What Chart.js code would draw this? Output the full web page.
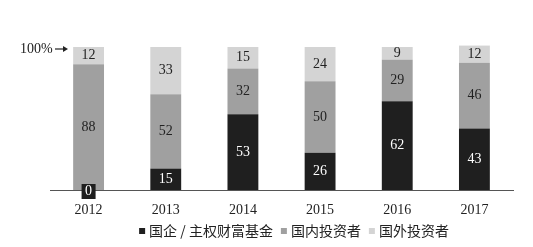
<!DOCTYPE html>
<html>
<head>
<meta charset="utf-8">
<script src="https://cdn.jsdelivr.net/npm/chart.js@4"></script>
<style>
  html, body { margin: 0; padding: 0; background: #fff; }
  #wrap { width: 533px; height: 247px; }
</style>
</head>
<body>
<div id="wrap"><canvas id="barChart"></canvas></div>
<script>
const years = ["2012", "2013", "2014", "2015", "2016", "2017"];
const soeFund = [0, 15, 53, 26, 62, 43];
const domestic = [88, 52, 32, 50, 29, 46];
const foreign = [12, 33, 15, 24, 9, 12];
const seriesNames = ["国企 / 主权财富基金", "国内投资者", "国外投资者"];

const serif = "'Liberation Serif', 'DejaVu Serif', serif";

// value labels inside each segment, the 100% marker and the legend row
const barLabels = {
  id: "barLabels",
  afterDatasetsDraw(chart) {
    const ctx = chart.ctx;
    ctx.save();
    ctx.font = "14px " + serif;
    ctx.textAlign = "center";
    ctx.textBaseline = "middle";
    chart.data.datasets.forEach((ds, i) => {
      const meta = chart.getDatasetMeta(i);
      meta.data.forEach((bar, j) => {
        const v = ds.data[j];
        let y = (bar.y + bar.base) / 2;
        if (v === 0) {
          y = bar.base + 1;
          ctx.fillStyle = "#1e1e1e";
          ctx.fillRect(bar.x - 7, y - 7, 14, 15);
          ctx.fillStyle = "#fff";
        } else {
          ctx.fillStyle = i === 0 ? "#fff" : "#222";
        }
        ctx.fillText(v, bar.x, y);
      });
    });

    // 100% marker
    const yTop = chart.scales.y.getPixelForValue(100) + 2;
    ctx.fillStyle = "#222";
    ctx.textAlign = "left";
    ctx.fillText("100%", 20, yTop);
    ctx.strokeStyle = "#222";
    ctx.lineWidth = 1.2;
    ctx.beginPath();
    ctx.moveTo(55, yTop);
    ctx.lineTo(66, yTop);
    ctx.stroke();
    ctx.beginPath();
    ctx.moveTo(68, yTop);
    ctx.lineTo(63, yTop - 3);
    ctx.lineTo(63, yTop + 3);
    ctx.closePath();
    ctx.fill();

    // legend
    ctx.font = "14px 'Noto Sans CJK SC'";
    const box = 6, gapIn = 4, gapOut = 8;
    const items = chart.data.datasets.map(ds => ({
      label: ds.label, color: ds.backgroundColor,
      w: box + gapIn + ctx.measureText(ds.label).width
    }));
    const total = items.reduce((s, it) => s + it.w, 0) + gapOut * (items.length - 1);
    let x = 294 - total / 2;
    const ly = 231;
    items.forEach(it => {
      ctx.fillStyle = it.color;
      ctx.fillRect(x, ly - box / 2, box, box);
      ctx.fillStyle = "#222";
      ctx.fillText(it.label, x + box + gapIn, ly);
      x += it.w + gapOut;
    });
    ctx.restore();
  }
};

new Chart(document.getElementById("barChart"), {
  type: "bar",
  data: {
    labels: years,
    datasets: [
      { label: seriesNames[0], data: soeFund, backgroundColor: "#1f1f1f" },
      { label: seriesNames[1], data: domestic, backgroundColor: "#a0a0a0" },
      { label: seriesNames[2], data: foreign, backgroundColor: "#d4d4d4" }
    ]
  },
  options: {
    responsive: true,
    maintainAspectRatio: false,
    animation: false,
    layout: { padding: { left: 50, right: 20, top: 47, bottom: 17 } },
    datasets: { bar: { barPercentage: 0.4, categoryPercentage: 1, clip: false } },
    plugins: {
      tooltip: { enabled: false },
      legend: { display: false }
    },
    scales: {
      x: {
        stacked: true,
        grid: { display: false, drawTicks: false },
        border: { color: "#555", width: 1 },
        ticks: { font: { family: serif, size: 14, lineHeight: 1 }, color: "#222", padding: 13 }
      },
      y: {
        stacked: true,
        display: false,
        min: 0,
        max: 100
      }
    }
  },
  plugins: [barLabels]
});
</script>
</body>
</html>
